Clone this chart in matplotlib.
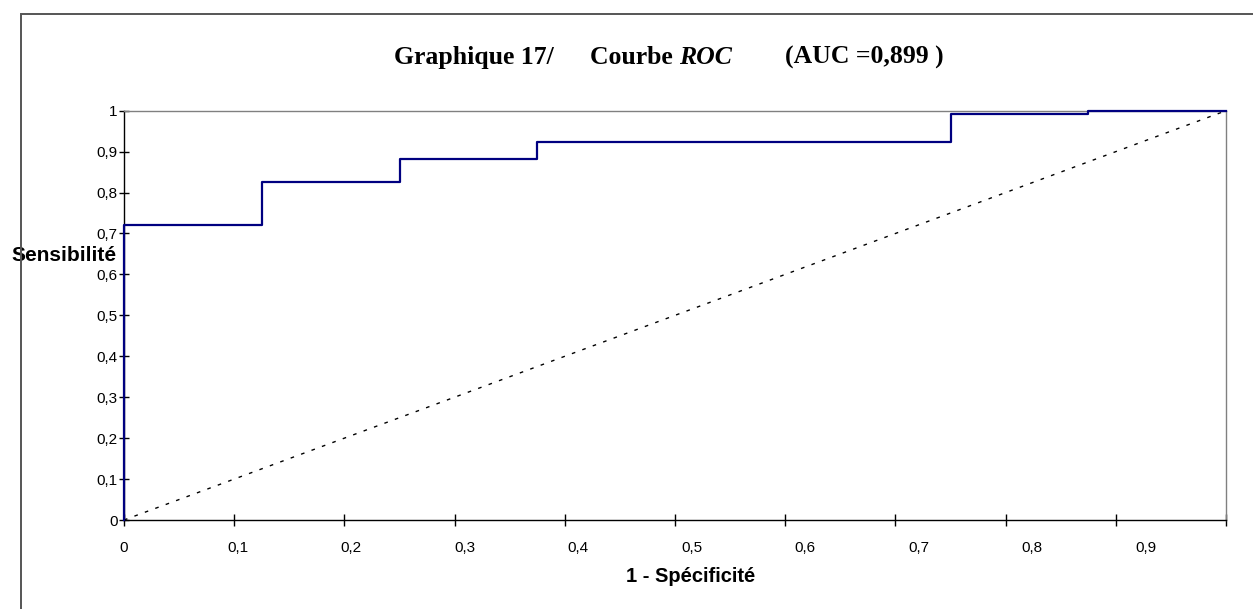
import numpy as np
import matplotlib
matplotlib.use('Agg')
import matplotlib.pyplot as plt
from matplotlib.patches import Rectangle

# ── Données ─────────────────────────────────────────────
fpr = [0.0, 0.0, 0.125, 0.25, 0.375, 0.75, 0.875, 1.0]      # 1 - spécificité
tpr = [0.0, 0.72, 0.826, 0.883, 0.924, 0.991, 1.0, 1.0]     # sensibilité
diag_x = [0.0, 1.0]
diag_y = [0.0, 1.0]

x_ticks = [0.0, 0.1, 0.2, 0.3, 0.4, 0.5, 0.6, 0.7, 0.8, 0.9, 1.0]
x_labels = ['0', '0,1', '0,2', '0,3', '0,4', '0,5', '0,6', '0,7', '0,8', '0,9']
y_ticks = [0.0, 0.1, 0.2, 0.3, 0.4, 0.5, 0.6, 0.7, 0.8, 0.9, 1.0]
y_labels = ['0', '0,1', '0,2', '0,3', '0,4', '0,5', '0,6', '0,7', '0,8', '0,9', '1']

W, H = 1253, 609
SANS = 'Liberation Sans'
SERIF = 'Liberation Serif'
TITLE_FS = 18.5

fig = plt.figure(figsize=(W / 100, H / 100), dpi=100)
fig.patch.set_facecolor('white')

# cadre du graphique (coupé à droite et en bas)
fig.add_artist(Rectangle((21 / W, -0.1), 2.0, 1 - 14 / H + 0.1,
                         transform=fig.transFigure, fill=False,
                         edgecolor='#555555', lw=1.4))

ax = fig.add_axes([124 / W, 1 - 520 / H, (1226 - 124) / W, (520 - 110.7) / H])
ax.set_xlim(0, 1)
ax.set_ylim(0, 1)

ax.plot(diag_x, diag_y, color='black', lw=1.0, linestyle=(0, (2.6, 5.4)),
        clip_on=False, zorder=2)
ax.step(fpr, tpr, where='post', color='#000080', lw=1.6, clip_on=False, zorder=3)

# axes
for side in ('top', 'right'):
    ax.spines[side].set_color('#808080')
    ax.spines[side].set_linewidth(1.0)
for side in ('left', 'bottom'):
    ax.spines[side].set_color('black')
    ax.spines[side].set_linewidth(1.0)

# graduations x : traits aux dixièmes, étiquettes légèrement décalées (comme l'original)
ax.xaxis.remove_overlapping_locs = False
ax.set_xticks(x_ticks)
ax.set_xticklabels([])
label_pos = [v * 1.03 for v in x_ticks[:len(x_labels)]]
ax.set_xticks(label_pos, minor=True)
ax.set_xticklabels(x_labels, minor=True, fontsize=11, family=SANS)
ax.tick_params(axis='x', which='major', direction='inout', length=8.5, width=1)
ax.tick_params(axis='x', which='minor', direction='inout', length=0, pad=15)

ax.set_yticks(y_ticks)
ax.set_yticklabels(y_labels, fontsize=11, family=SANS)
ax.tick_params(axis='y', direction='inout', length=6.5, width=1, pad=1.3)

ax.set_xlabel('1 - Spécificité', fontsize=14.5, fontweight='bold', family=SANS,
              va='center')
ax.xaxis.set_label_coords(0.5145, -0.139)
ax.set_ylabel('Sensibilité', fontsize=15, fontweight='bold', family=SANS,
              rotation=0, ha='left', va='center')
ax.yaxis.set_label_coords(-0.1025, 0.647)

# titre en plusieurs morceaux (ROC en italique)
ty = 1 - 64 / H
tkw = dict(family=SERIF, fontweight='bold', fontsize=TITLE_FS, va='baseline')
fig.text(394 / W, ty, 'Graphique 17/', **tkw)
t_courbe = fig.text(590 / W, ty, 'Courbe ', **tkw)
renderer = fig.canvas.get_renderer()
x_roc = t_courbe.get_window_extent(renderer).x1 / W
fig.text(x_roc, ty, 'ROC', style='italic', **tkw)
fig.text(785 / W, ty, '(AUC =0,899 )', **tkw)

fig.savefig('out.png', dpi=100)
